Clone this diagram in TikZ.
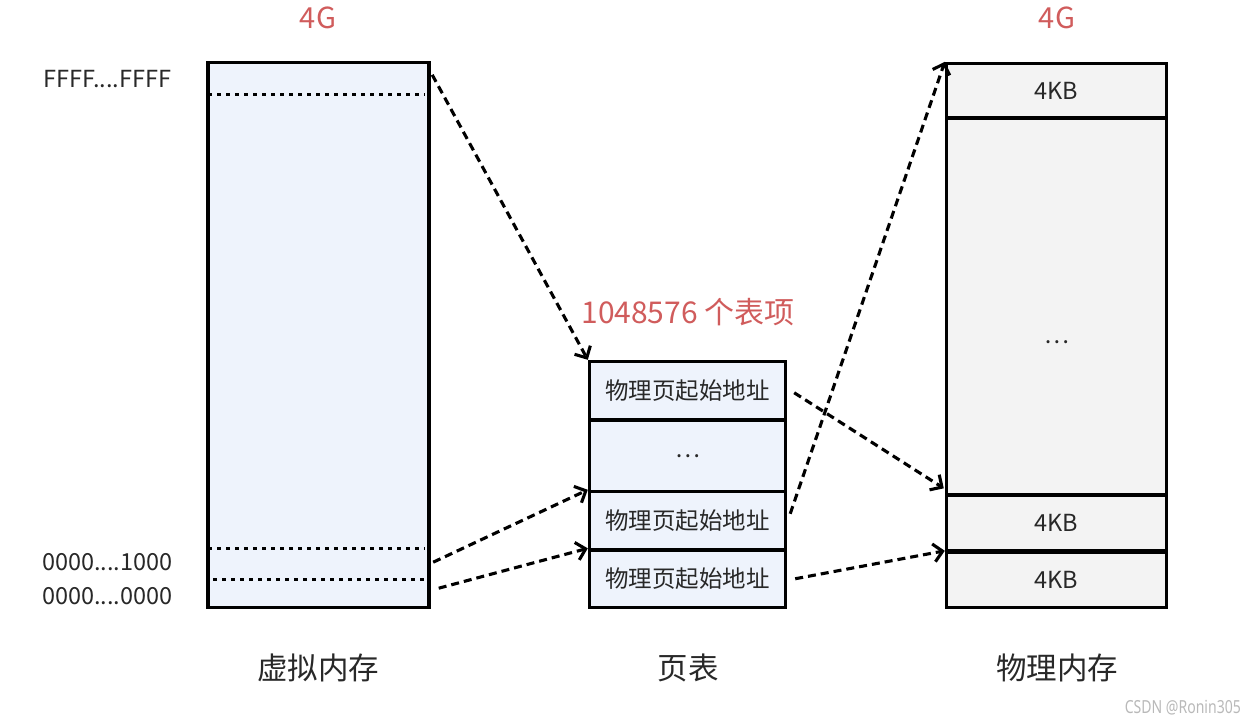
\documentclass[tikz,border=0pt]{standalone}
\usepackage{fontspec}
\setmainfont{Noto Sans CJK SC}
\newfontfamily\wmfont{Noto Sans}
\usetikzlibrary{arrows.meta}
\definecolor{redlbl}{RGB}{208,92,92}
\definecolor{txt}{RGB}{40,40,40}
\definecolor{vfill}{RGB}{238,243,252}
\definecolor{pfill}{RGB}{243,243,243}
\definecolor{wm}{RGB}{185,185,185}
\newcommand{\fsz}[1]{\fontsize{#1}{#1}\selectfont}
\begin{document}
\begin{tikzpicture}[x=1pt,y=-1pt,
  box/.style={draw=black,line width=3.4pt,inner sep=0pt,text=txt,font=\fsz{23.5}},
  vbox/.style={box,fill=vfill},
  pbox/.style={box,fill=pfill},
  redlabel/.style={text=redlbl,font=\fsz{29},inner sep=0pt},
  addr/.style={text=txt,font=\fsz{23.5},inner sep=0pt,anchor=west},
  title/.style={text=txt,font=\fsz{30.5},inner sep=0pt},
  dotline/.style={line width=3.2pt,dash pattern=on 3.2pt off 5.8pt},
  link/.style={line width=3.1pt,dash pattern=on 8pt off 5pt,
    -{Straight Barb[length=9pt,width=18pt,line width=3.1pt]}}]
\useasboundingbox (0,0) rectangle (1245,728);

% virtual memory
\node[vbox,minimum width=221pt,minimum height=545pt] (v) at (318.5,335) {};
\draw[dotline] ([shift={(2,34)}]v.north west) -- ([shift={(-6,34)}]v.north east);
\draw[dotline] ([shift={(2,-61)}]v.south west) -- ([shift={(-6,-61)}]v.south east);
\draw[dotline] ([shift={(7,-30)}]v.south west) -- ([shift={(-5,-30)}]v.south east);
\node[redlabel] (g1) at (318,18) {4G};
\node[addr] (lf) at (43,79) {FFFF....FFFF};
\node[addr] (l1) at (42,562) {0000....1000};
\node[addr] (l0) at (42,596) {0000....0000};
\node[title] (tv) at (318,668) {虚拟内存};

% page table
\node[vbox,minimum width=196pt,minimum height=58.5pt] (pt1) at (687.5,390.75) {物理页起始地址};
\node[vbox,minimum width=196pt,minimum height=71.5pt] (pt2) at (687.5,455.75) {…};
\node[vbox,minimum width=196pt,minimum height=58.5pt] (pt3) at (687.5,520.75) {物理页起始地址};
\node[vbox,minimum width=196pt,minimum height=57.5pt] (pt4) at (687.5,578.75) {物理页起始地址};
\node[redlabel,font=\fsz{30}] (ne) at (688,312) {1048576 个表项};
\node[title] (tp) at (688,668) {页表};

% physical memory
\node[pbox,minimum width=220pt,minimum height=54.5pt] (p1) at (1056.5,90.75) {4KB};
\node[pbox,minimum width=220pt,minimum height=377pt] (p2) at (1056.5,306.5) {};
\node[text=txt,font=\fsz{23.5},inner sep=0pt] (pdots) at (1057,342) {…};
\node[pbox,minimum width=220pt,minimum height=55.5pt] (p3) at (1056.5,522.75) {4KB};
\node[pbox,minimum width=220pt,minimum height=55pt] (p4) at (1056.5,580) {4KB};
\node[redlabel] (g2) at (1057,18) {4G};
\node[title] (tm) at (1057,668) {物理内存};

% connectors
\draw[link] ([shift={(1.5,14)}]v.north east) -- (pt1.north west);
\draw[link] ([shift={(2.5,-47)}]v.south east) -- (pt3.north west);
\draw[link] ([shift={(8,-21)}]v.south east) -- (pt4.north west);
\draw[link] ([shift={(7,2)}]pt1.east) -- ([shift={(-1,-5)}]p3.north west);
\draw[link] ([shift={(3,-7)}]pt3.east) -- (p1.north west);
\draw[link] ([shift={(8,0)}]pt4.east) -- (p4.north west);

% watermark
\node[text=wm,font=\wmfont\fsz{18},inner sep=0pt,anchor=east,xscale=0.78] (wmk) at (1241,708) {CSDN @Ronin305};
\end{tikzpicture}
\end{document}
